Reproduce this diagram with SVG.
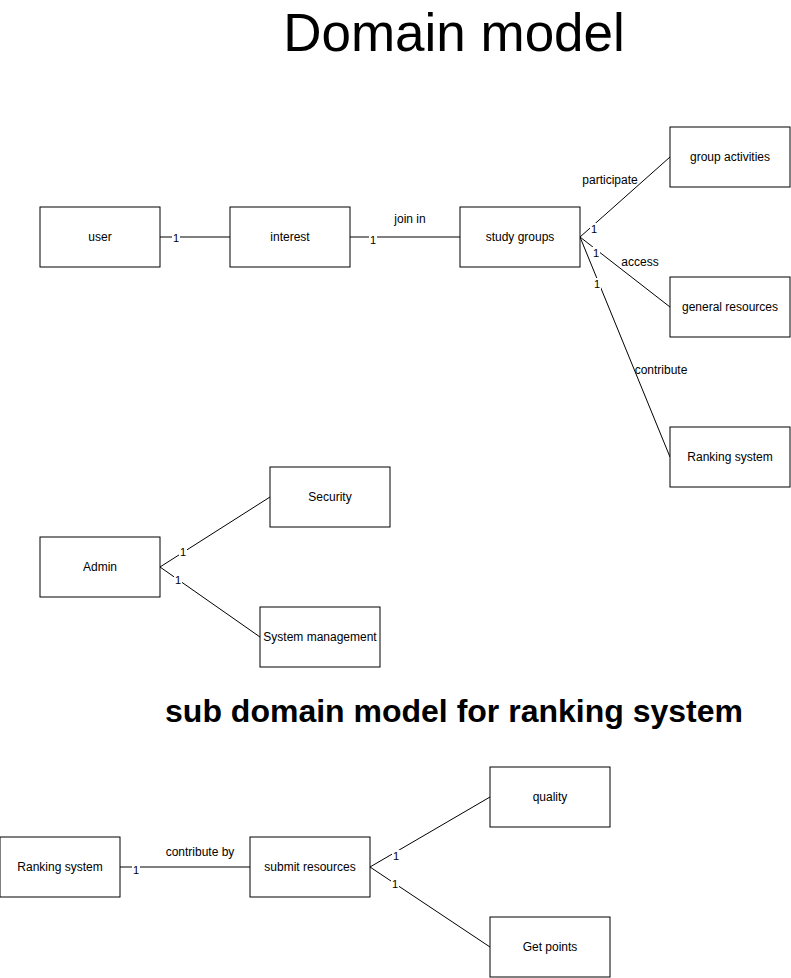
<svg xmlns="http://www.w3.org/2000/svg" width="791" height="978" viewBox="0 0 791 978">
<style>
.node rect{fill:#fff;stroke:#000;stroke-width:1}
.node text{font-family:"Liberation Sans",Arial,sans-serif;font-size:12px;fill:#000;text-anchor:middle;dominant-baseline:central}
.edges line{stroke:#000;stroke-width:1}
.m{font-family:"Liberation Sans",Arial,sans-serif;font-size:11px;fill:#000;text-anchor:middle;dominant-baseline:central}
.mb{fill:#fff}
.el{font-family:"Liberation Sans",Arial,sans-serif;font-size:12px;fill:#000;text-anchor:middle;dominant-baseline:central}
</style>
<rect width="791" height="978" fill="#fff"/>
<text x="454" y="51" font-family="Liberation Sans,Arial,sans-serif" font-size="53" text-anchor="middle">Domain model</text>
<text x="454" y="722" font-family="Liberation Sans,Arial,sans-serif" font-size="32" font-weight="bold" text-anchor="middle">sub domain model for ranking system</text>
<g id="edges" class="edges">
<line x1="160" y1="237" x2="230" y2="237"/>
<line x1="350" y1="237" x2="460" y2="237"/>
<line x1="580" y1="237" x2="670" y2="157"/>
<line x1="580" y1="237" x2="670" y2="307"/>
<line x1="580" y1="237" x2="670" y2="457"/>
<line x1="160" y1="567" x2="270" y2="497"/>
<line x1="160" y1="567" x2="260" y2="637"/>
<line x1="120" y1="867" x2="250" y2="867"/>
<line x1="370" y1="867" x2="490" y2="797"/>
<line x1="370" y1="867" x2="490" y2="947"/>
<rect class="mb" x="172" y="232" width="8" height="12"/><text class="m" x="176" y="238">1</text>
<rect class="mb" x="369" y="234" width="8" height="12"/><text class="m" x="373" y="240">1</text>
<rect class="mb" x="590" y="223" width="8" height="12"/><text class="m" x="594" y="229">1</text>
<rect class="mb" x="592" y="247" width="8" height="12"/><text class="m" x="596" y="253">1</text>
<rect class="mb" x="593" y="278" width="8" height="12"/><text class="m" x="597" y="284">1</text>
<rect class="mb" x="179" y="546" width="8" height="12"/><text class="m" x="183" y="552">1</text>
<rect class="mb" x="174" y="574" width="8" height="12"/><text class="m" x="178" y="580">1</text>
<rect class="mb" x="132" y="864" width="8" height="12"/><text class="m" x="136" y="870">1</text>
<rect class="mb" x="392" y="850" width="8" height="12"/><text class="m" x="396" y="856">1</text>
<rect class="mb" x="391" y="878" width="8" height="12"/><text class="m" x="395" y="884">1</text>
<text class="el" x="410" y="219">join in</text>
<text class="el" x="610" y="180">participate</text>
<text class="el" x="640" y="262">access</text>
<text class="el" x="661" y="370">contribute</text>
<text class="el" x="200" y="852">contribute by</text>
</g>
<g id="user" class="node"><rect x="40" y="207" width="120" height="60"/><text x="100" y="237">user</text></g>
<g id="interest" class="node"><rect x="230" y="207" width="120" height="60"/><text x="290" y="237">interest</text></g>
<g id="study-groups" class="node"><rect x="460" y="207" width="120" height="60"/><text x="520" y="237">study groups</text></g>
<g id="group-activities" class="node"><rect x="670" y="127" width="120" height="60"/><text x="730" y="157">group activities</text></g>
<g id="general-resources" class="node"><rect x="670" y="277" width="120" height="60"/><text x="730" y="307">general resources</text></g>
<g id="ranking-system-1" class="node"><rect x="670" y="427" width="120" height="60"/><text x="730" y="457">Ranking system</text></g>
<g id="admin" class="node"><rect x="40" y="537" width="120" height="60"/><text x="100" y="567">Admin</text></g>
<g id="security" class="node"><rect x="270" y="467" width="120" height="60"/><text x="330" y="497">Security</text></g>
<g id="system-management" class="node"><rect x="260" y="607" width="120" height="60"/><text x="320" y="637">System management</text></g>
<g id="ranking-system-2" class="node"><rect x="0" y="837" width="120" height="60"/><text x="60" y="867">Ranking system</text></g>
<g id="submit-resources" class="node"><rect x="250" y="837" width="120" height="60"/><text x="310" y="867">submit resources</text></g>
<g id="quality" class="node"><rect x="490" y="767" width="120" height="60"/><text x="550" y="797">quality</text></g>
<g id="get-points" class="node"><rect x="490" y="917" width="120" height="60"/><text x="550" y="947">Get points</text></g>
</svg>
